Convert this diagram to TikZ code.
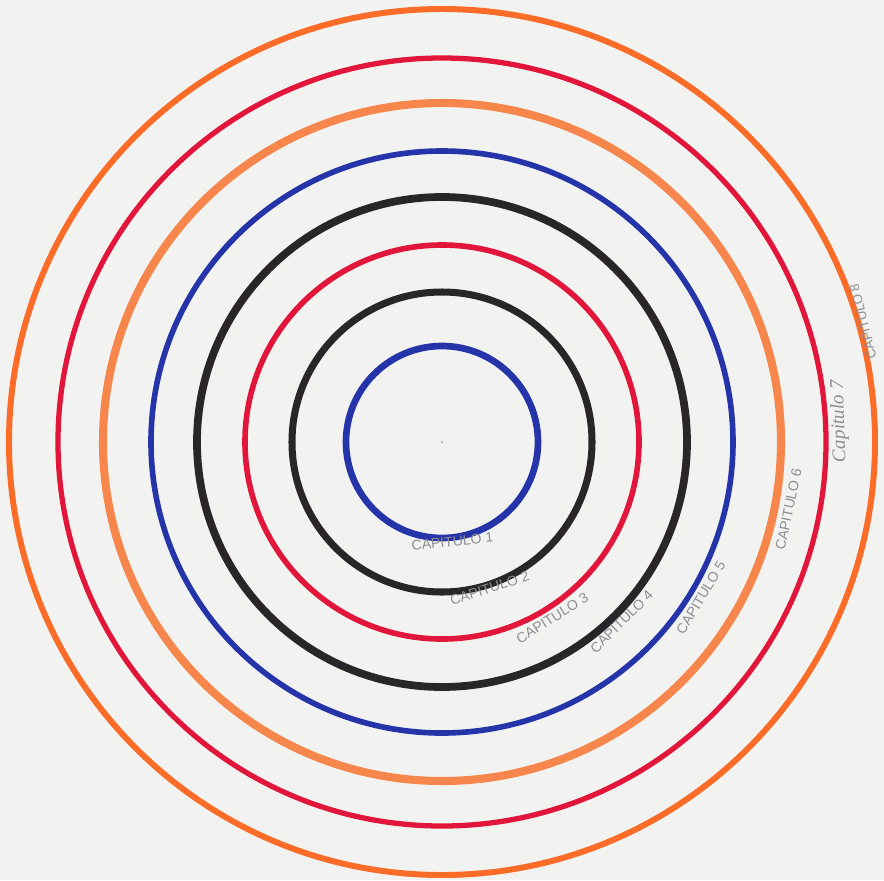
\documentclass[tikz,border=0pt]{standalone}
\usepackage{fontspec}
\setmainfont{Liberation Sans}
\newfontfamily\handfont{Liberation Serif}

\definecolor{paper}{RGB}{242,243,241}
\definecolor{pencil}{RGB}{140,141,145}
\definecolor{ringblue}{RGB}{38,52,170}
\definecolor{ringblack}{RGB}{40,38,40}
\definecolor{ringred}{RGB}{226,22,58}
\definecolor{ringpeach}{RGB}{247,134,76}
\definecolor{ringorange}{RGB}{250,108,40}

\begin{document}
\begin{tikzpicture}[
x=0.02cm, y=0.02cm,
ring/.style={line width=#1},
chapter/.style={
    text=pencil,
    inner sep=0pt,
    font=\fontsize{8}{8}\selectfont
}
]

\fill[paper] (-442,-438) rectangle (442,442);
\useasboundingbox (-442,-438) rectangle (442,442);

\coordinate (center) at (0,0);

\draw[ringblue,ring=3.8pt] (center) circle (96);
\draw[ringblack,ring=4pt] (center) circle (150);
\draw[ringred,ring=3.2pt] (center) circle (197);
\draw[ringblack,ring=4.4pt] (center) circle (245);
\draw[ringblue,ring=3.2pt] (center) circle (291);
\draw[ringpeach,ring=4.6pt] (center) circle (339);
\draw[ringred,ring=3pt] (center) circle (384);
\draw[ringorange,ring=3.4pt] (center) circle (433);

\fill[pencil] (center) circle (1);

\node[chapter,rotate=6] (cap1) at (-84:100) {CAPITULO 1};
\node[chapter,rotate=18] (cap2) at (-72:154) {CAPITULO 2};
\node[chapter,rotate=32] (cap3) at (-58:208) {CAPITULO 3};
\node[chapter,rotate=45] (cap4) at (-45:254) {CAPITULO 4};
\node[chapter,rotate=59] (cap5) at (-31:302) {CAPITULO 5};
\node[chapter,rotate=78] (cap6) at (-11:353) {CAPITULO 6};
\node[chapter,rotate=92,font=\handfont\itshape\fontsize{11}{11}\selectfont]
    (cap7) at (3:398) {Capitulo 7};
\node[chapter,rotate=104,font=\fontsize{7.5}{7.5}\selectfont]
    (cap8) at (16:438) {CAPITULO 8};

\end{tikzpicture}
\end{document}
